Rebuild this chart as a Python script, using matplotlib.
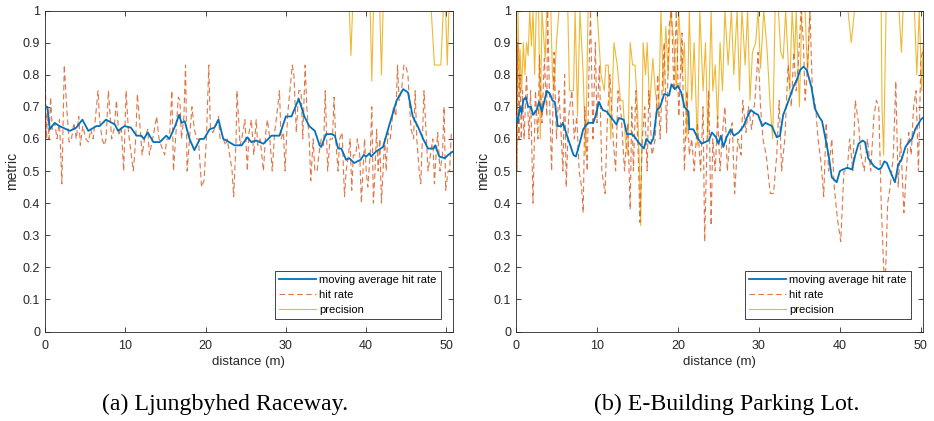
import matplotlib
matplotlib.use('Agg')
import matplotlib.pyplot as plt

# colours (MATLAB default line order)
c_ma = '#0072BD'
c_hit = '#D95319'
c_prec = '#EDB120'

# ---- (a) Ljungbyhed Raceway ----
a_ma_x = [0.0, 0.3, 0.6, 1.2, 1.8, 3.1, 3.9, 4.65, 5.4, 6.4, 6.8, 7.6, 8.7, 9.1, 9.9, 10.7,
          11.4, 12.0, 12.3, 12.8, 13.5, 14.3, 15.1, 15.5, 16.2, 16.7, 17.0, 17.4, 18.0, 18.6,
          19.3, 19.8, 20.5, 21.1, 21.6, 22.2, 22.6, 23.6, 24.5, 25.2, 25.7, 26.3, 27.2, 28.2,
          29.2, 30.0, 30.7, 31.6, 32.3, 32.9, 33.6, 34.2, 34.4, 35.0, 35.7, 36.1, 36.5, 36.9,
          37.5, 37.9, 38.5, 39.3, 39.7, 40.0, 40.4, 40.6, 41.2, 42.1, 42.9, 43.8, 44.6, 45.2,
          45.8, 46.5, 47.1, 47.7, 48.4, 48.6, 49.1, 49.8, 50.2, 50.75]
a_ma_y = [0.70, 0.70, 0.63, 0.65, 0.64, 0.625, 0.635, 0.66, 0.625, 0.64, 0.64, 0.66, 0.645,
          0.625, 0.64, 0.635, 0.61, 0.61, 0.60, 0.62, 0.59, 0.59, 0.61, 0.60, 0.64, 0.675,
          0.65, 0.655, 0.60, 0.565, 0.60, 0.60, 0.63, 0.635, 0.66, 0.60, 0.595, 0.58, 0.58,
          0.605, 0.59, 0.595, 0.585, 0.61, 0.61, 0.67, 0.67, 0.725, 0.67, 0.64, 0.625, 0.58,
          0.575, 0.615, 0.615, 0.61, 0.57, 0.57, 0.535, 0.54, 0.525, 0.535, 0.55, 0.545,
          0.555, 0.545, 0.56, 0.575, 0.645, 0.72, 0.755, 0.745, 0.67, 0.635, 0.60, 0.57,
          0.57, 0.58, 0.545, 0.54, 0.55, 0.56]

a_hit_x = [0.0, 0.2, 0.3, 0.5, 0.7, 0.9, 1.2, 1.5, 1.8, 2.1, 2.4, 2.7, 3.0, 3.3, 3.6, 3.9,
           4.2, 4.4, 4.7, 5.1, 5.4, 5.7, 6.0, 6.3, 6.6, 6.8, 7.1, 7.4, 7.6, 7.9, 8.3, 8.6,
           8.9, 9.2, 9.5, 9.8, 10.1, 10.4, 10.7, 11.0, 11.3, 11.5, 11.8, 12.1, 12.4, 12.8,
           13.0, 13.4, 13.7, 13.9, 14.2, 14.6, 14.9, 15.2, 15.5, 15.8, 16.0, 16.4, 16.6,
           16.8, 17.0, 17.3, 17.5, 17.7, 18.0, 18.3, 18.6, 18.9, 19.1, 19.5, 19.8, 20.1,
           20.4, 20.6, 20.9, 21.3, 21.6, 21.8, 22.2, 22.5, 22.7, 23.0, 23.3, 23.5, 23.8,
           23.9, 24.3, 24.5, 24.9, 25.2, 25.4, 25.7, 26.0, 26.3, 26.5, 26.8, 27.2, 27.5,
           27.7, 28.0, 28.3, 28.6, 28.8, 29.2, 29.4, 29.7, 29.9, 30.2, 30.5, 30.8, 31.0,
           31.3, 31.6, 31.9, 32.1, 32.4, 32.6, 32.9, 33.1, 33.4, 33.6, 33.9, 34.1, 34.4,
           34.7, 34.9, 35.2, 35.5, 35.8, 36.0, 36.2, 36.5, 36.7, 37.0, 37.3, 37.5, 37.8,
           38.0, 38.2, 38.4, 38.7, 38.9, 39.2, 39.4, 39.6, 39.8, 40.0, 40.2, 40.5, 40.7,
           40.9, 41.1, 41.3, 41.5, 41.7, 41.9, 42.1, 42.3, 42.5, 42.7, 43.0, 43.4, 43.7,
           43.9, 44.1, 44.4, 44.7, 44.9, 45.2, 45.4, 45.6, 45.9, 46.1, 46.3, 46.6, 46.8,
           47.0, 47.2, 47.5, 47.7, 48.0, 48.3, 48.5, 48.7, 48.9, 49.2, 49.5, 49.7, 49.9,
           50.2, 50.4, 50.6]
a_hit_y = [0.82, 0.60, 0.70, 0.60, 0.73, 0.63, 0.65, 0.60, 0.66, 0.46, 0.83, 0.70, 0.59,
           0.60, 0.65, 0.60, 0.67, 0.58, 0.64, 0.60, 0.59, 0.63, 0.60, 0.67, 0.75, 0.66,
           0.60, 0.58, 0.60, 0.75, 0.60, 0.63, 0.72, 0.61, 0.64, 0.50, 0.75, 0.62, 0.56,
           0.50, 0.60, 0.74, 0.65, 0.55, 0.60, 0.63, 0.55, 0.60, 0.64, 0.67, 0.60, 0.57,
           0.55, 0.60, 0.60, 0.75, 0.50, 0.65, 0.73, 0.72, 0.60, 0.67, 0.83, 0.50, 0.60,
           0.70, 0.63, 0.60, 0.60, 0.45, 0.47, 0.60, 0.83, 0.63, 0.62, 0.64, 0.67, 0.60,
           0.60, 0.58, 0.60, 0.55, 0.50, 0.42, 0.60, 0.75, 0.58, 0.60, 0.66, 0.50, 0.62,
           0.66, 0.55, 0.66, 0.58, 0.60, 0.50, 0.62, 0.66, 0.60, 0.50, 0.62, 0.66, 0.75,
           0.60, 0.62, 0.50, 0.67, 0.75, 0.83, 0.80, 0.62, 0.75, 0.75, 0.60, 0.83, 0.70,
           0.60, 0.47, 0.60, 0.50, 0.50, 0.55, 0.60, 0.58, 0.75, 0.50, 0.60, 0.60, 0.73,
           0.60, 0.50, 0.60, 0.62, 0.42, 0.50, 0.55, 0.60, 0.44, 0.55, 0.55, 0.60, 0.55,
           0.40, 0.50, 0.60, 0.50, 0.45, 0.55, 0.70, 0.40, 0.50, 0.63, 0.50, 0.60, 0.40,
           0.50, 0.60, 0.50, 0.62, 0.60, 0.70, 0.67, 0.83, 0.72, 0.75, 0.83, 0.83, 0.80,
           0.70, 0.63, 0.60, 0.75, 0.60, 0.50, 0.46, 0.60, 0.75, 0.60, 0.50, 0.55, 0.60,
           0.46, 0.55, 0.62, 0.50, 0.55, 0.70, 0.44, 0.50, 0.50, 0.62]

a_prec_x = [0.0, 37.9, 38.1, 38.3, 40.5, 40.7, 40.9, 41.7, 41.9, 42.1, 48.1, 48.5, 49.3,
            49.6, 49.9, 50.1, 50.3, 50.75]
a_prec_y = [1.0, 1.0, 0.86, 1.0, 1.0, 0.78, 1.0, 1.0, 0.80, 1.0, 1.0, 0.83, 0.83,
            1.0, 1.0, 0.83, 1.0, 1.0]

# ---- (b) E-Building Parking Lot ----
b_ma_x = [0.0, 0.2, 0.5, 0.7, 0.9, 1.2, 1.5, 1.85, 2.1, 2.55, 2.85, 3.2, 3.8, 4.2, 4.5,
          4.8, 5.15, 5.6, 5.8, 6.3, 6.7, 7.1, 7.4, 7.9, 8.3, 8.9, 9.55, 9.8, 10.25, 10.7,
          11.2, 11.8, 12.4, 12.7, 13.3, 13.7, 14.3, 14.7, 15.1, 15.45, 15.8, 16.1, 16.6,
          16.95, 17.4, 17.8, 18.3, 18.9, 19.2, 19.6, 20.0, 20.4, 20.8, 21.3, 21.4, 21.9,
          22.5, 22.9, 23.8, 24.2, 24.7, 25.0, 25.3, 25.6, 26.0, 26.5, 26.9, 27.5, 28.1,
          28.5, 29.0, 29.5, 29.9, 30.4, 30.8, 31.6, 32.2, 32.6, 33.0, 33.6, 34.3, 34.7,
          35.1, 35.5, 35.9, 36.5, 36.9, 37.4, 37.8, 38.3, 38.6, 39.0, 39.6, 40.0, 40.4,
          40.9, 41.5, 41.9, 42.3, 42.8, 43.1, 43.5, 44.2, 44.8, 45.1, 45.5, 45.8, 46.2,
          46.8, 47.2, 47.6, 48.1, 48.5, 48.9, 49.3, 50.0, 50.2]
b_ma_y = [0.67, 0.65, 0.70, 0.68, 0.72, 0.73, 0.70, 0.70, 0.675, 0.69, 0.715, 0.685, 0.75,
          0.74, 0.72, 0.715, 0.64, 0.64, 0.65, 0.61, 0.58, 0.55, 0.545, 0.59, 0.63, 0.65,
          0.65, 0.67, 0.715, 0.69, 0.685, 0.665, 0.645, 0.665, 0.66, 0.615, 0.615, 0.605,
          0.59, 0.58, 0.57, 0.60, 0.585, 0.60, 0.69, 0.70, 0.74, 0.735, 0.77, 0.755, 0.765,
          0.745, 0.70, 0.685, 0.63, 0.63, 0.60, 0.585, 0.595, 0.62, 0.605, 0.585, 0.61,
          0.575, 0.605, 0.63, 0.61, 0.62, 0.64, 0.665, 0.69, 0.68, 0.675, 0.64, 0.65, 0.64,
          0.605, 0.61, 0.675, 0.715, 0.765, 0.785, 0.815, 0.825, 0.815, 0.76, 0.695, 0.67,
          0.655, 0.59, 0.55, 0.48, 0.465, 0.50, 0.505, 0.51, 0.505, 0.55, 0.585, 0.595,
          0.59, 0.54, 0.515, 0.505, 0.51, 0.53, 0.525, 0.50, 0.465, 0.52, 0.535, 0.575,
          0.59, 0.60, 0.63, 0.66, 0.665]

b_hit_x = [0.0, 0.1, 0.2, 0.35, 0.5, 0.65, 0.8, 1.0, 1.3, 1.6, 1.8, 2.1, 2.4, 2.7, 2.9,
           3.2, 3.5, 3.8, 3.9, 4.2, 4.4, 4.7, 5.0, 5.3, 5.8, 6.0, 6.2, 6.5, 6.9, 7.2, 7.5,
           7.8, 8.1, 8.3, 8.5, 8.8, 9.0, 9.2, 9.5, 9.8, 10.0, 10.3, 10.6, 11.0, 11.3, 11.6,
           12.0, 12.3, 12.6, 13.0, 13.4, 13.8, 14.1, 14.3, 14.5, 14.8, 15.1, 15.3, 15.6,
           15.9, 16.2, 16.4, 16.8, 17.2, 17.5, 17.8, 18.0, 18.3, 18.6, 18.9, 19.2, 19.5,
           19.8, 20.1, 20.5, 20.8, 21.1, 21.4, 21.7, 22.0, 22.4, 22.8, 23.1, 23.3, 23.6,
           23.8, 24.1, 24.3, 24.6, 24.9, 25.2, 25.5, 25.8, 26.1, 26.4, 26.7, 27.0, 27.4,
           27.8, 28.0, 28.4, 28.7, 29.1, 29.5, 29.9, 30.2, 30.5, 30.9, 31.1, 31.4, 31.8,
           32.2, 32.5, 32.8, 33.2, 33.6, 34.0, 34.3, 34.6, 34.9, 35.2, 35.5, 35.7, 36.0,
           36.3, 36.6, 37.0, 37.3, 37.7, 38.0, 38.3, 38.6, 39.0, 39.3, 39.7, 40.1, 40.5,
           40.9, 41.2, 41.6, 41.9, 42.3, 42.6, 43.0, 43.4, 43.8, 44.2, 44.5, 44.8, 45.1,
           45.4, 45.6, 45.9, 46.2, 46.6, 46.9, 47.2, 47.5, 47.9, 48.2, 48.5, 48.8, 49.1,
           49.4, 49.7, 50.0, 50.3]
b_hit_y = [1.0, 0.5, 0.9, 0.6, 0.8, 0.6, 0.75, 0.6, 0.8, 0.6, 0.75, 0.4, 0.75, 0.6, 0.86,
           0.65, 0.85, 0.67, 1.0, 0.67, 0.5, 0.87, 0.6, 0.75, 0.5, 0.8, 0.45, 0.67, 0.75,
           0.6, 0.67, 0.5, 0.45, 0.37, 0.7, 0.5, 0.8, 1.0, 0.6, 0.9, 0.65, 0.83, 0.5, 0.43,
           0.67, 0.8, 0.6, 0.5, 0.75, 0.67, 0.5, 0.65, 0.38, 0.7, 0.5, 0.75, 0.55, 0.34,
           0.6, 0.7, 0.5, 0.75, 0.55, 0.6, 0.8, 0.6, 0.73, 0.9, 0.62, 0.95, 1.0, 0.75, 1.0,
           0.67, 0.93, 0.5, 0.75, 0.55, 0.6, 0.5, 0.65, 0.5, 0.7, 0.28, 0.6, 0.75, 0.33,
           0.6, 0.5, 0.67, 0.5, 0.62, 0.7, 0.5, 0.6, 0.65, 0.43, 0.6, 0.55, 0.72, 0.62,
           0.7, 0.63, 0.72, 0.87, 0.7, 0.6, 0.55, 0.5, 0.43, 0.43, 0.55, 0.72, 0.5, 0.6,
           0.83, 0.7, 0.87, 0.75, 0.85, 1.0, 0.9, 0.72, 0.82, 1.0, 0.75, 0.7, 0.6, 0.52,
           0.42, 0.65, 0.5, 0.6, 0.45, 0.35, 0.28, 0.5, 0.5, 0.6, 0.5, 0.72, 0.65, 0.55,
           0.5, 0.6, 0.5, 0.67, 0.72, 0.7, 0.4, 0.2, 0.15, 0.4, 0.45, 0.55, 0.78, 0.45,
           0.6, 0.37, 0.5, 0.62, 0.55, 0.7, 0.75, 0.5, 0.85, 0.88]

b_prec_x = [0.0, 0.1, 0.25, 0.4, 0.5, 0.7, 0.9, 1.1, 1.3, 1.5, 1.7, 1.9, 2.1, 2.3, 2.5,
            2.8, 3.0, 3.2, 3.6, 3.8, 4.3, 4.5, 4.7, 5.0, 5.3, 6.4, 6.6, 7.1, 7.3, 7.6, 7.9,
            8.3, 8.6, 8.9, 10.0, 10.5, 10.9, 11.1, 11.4, 11.7, 11.9, 12.1, 12.5, 12.9,
            13.2, 13.5, 13.8, 14.1, 14.4, 14.7, 15.0, 15.2, 15.4, 15.7, 16.0, 16.2, 16.5,
            16.9, 17.2, 17.6, 17.9, 18.2, 18.5, 18.8, 19.1, 19.5, 19.8, 20.1, 20.5, 20.8,
            21.1, 21.4, 21.7, 22.0, 22.4, 22.7, 23.1, 23.4, 23.7, 24.1, 24.3, 24.6, 24.9,
            25.2, 25.5, 25.8, 26.2, 26.6, 26.9, 27.3, 27.6, 27.9, 28.3, 28.6, 28.9, 29.2,
            29.6, 29.9, 30.2, 30.6, 31.0, 31.4, 31.7, 32.0, 32.4, 32.7, 33.0, 33.3, 33.8,
            34.1, 34.4, 34.6, 35.0, 35.3, 35.7, 36.0, 36.3, 41.0, 41.4, 41.8, 45.1, 45.2,
            45.4, 45.5, 45.7, 47.3, 47.6, 47.8, 49.2, 49.5, 49.8, 50.1, 50.3]
b_prec_y = [1.0, 0.5, 1.0, 0.75, 0.88, 0.75, 0.9, 0.8, 0.9, 0.86, 1.0, 0.89, 1.0, 0.8,
            1.0, 1.0, 0.6, 1.0, 0.85, 1.0, 1.0, 0.8, 0.75, 0.9, 1.0, 1.0, 0.75, 0.75, 1.0,
            0.67, 1.0, 0.8, 0.55, 1.0, 1.0, 0.8, 0.75, 0.83, 0.83, 0.6, 0.75, 0.9, 0.83,
            0.72, 0.72, 0.6, 0.55, 0.9, 0.83, 0.83, 0.7, 0.55, 0.33, 0.9, 0.8, 0.9, 0.7,
            0.85, 0.75, 0.67, 1.0, 0.75, 0.95, 0.8, 1.0, 0.9, 0.75, 1.0, 0.8, 0.9, 0.6, 1.0,
            0.72, 0.9, 0.58, 1.0, 0.75, 0.9, 0.6, 1.0, 0.75, 0.83, 0.65, 0.9, 0.75, 1.0,
            0.83, 1.0, 0.8, 1.0, 0.75, 1.0, 0.83, 1.0, 0.72, 0.87, 0.9, 1.0, 0.82, 1.0,
            0.88, 0.7, 0.6, 1.0, 1.0, 0.87, 0.85, 1.0, 0.75, 1.0, 0.85, 1.0, 0.7, 1.0, 1.0,
            0.8, 1.0, 1.0, 0.9, 1.0, 1.0, 0.7, 0.55, 0.7, 1.0, 1.0, 0.87, 1.0, 1.0, 0.8,
            1.0, 0.75, 0.9]

captions = ['(a) Ljungbyhed Raceway.', '(b) E-Building Parking Lot.']
labels = ['moving average hit rate', 'hit rate', 'precision']

plt.rcParams['font.family'] = ['Liberation Sans', 'DejaVu Sans']


def draw_panel(ax, ma_x, ma_y, hit_x, hit_y, prec_x, prec_y, xmax):
    ax.plot(ma_x, ma_y, color=c_ma, lw=1.3, label=labels[0], zorder=3)
    ax.plot(hit_x, hit_y, color=c_hit, lw=0.8, ls=(0, (5, 3)), alpha=0.8,
            label=labels[1], zorder=2)
    ax.plot(prec_x, prec_y, color=c_prec, lw=0.8, alpha=0.9, label=labels[2], zorder=1)
    ax.set_xlim(0, xmax)
    ax.set_ylim(0, 1)
    ax.set_xticks([0, 10, 20, 30, 40, 50])
    ax.set_yticks([i / 10 for i in range(11)])
    ax.set_yticklabels(['0', '0.1', '0.2', '0.3', '0.4', '0.5', '0.6', '0.7', '0.8', '0.9', '1'])
    ax.tick_params(direction='in', top=True, right=True, labelsize=9,
                   colors='#262626', length=3.5, width=0.6)
    ax.tick_params(axis='x', pad=6)
    for s in ax.spines.values():
        s.set_color('#262626')
        s.set_linewidth(0.6)
    ax.set_xlabel('distance (m)', fontsize=9.5, color='#262626', labelpad=3)
    ax.set_ylabel('metric', fontsize=10, color='#262626', labelpad=3)
    w = ax.get_position().width * 934
    h = ax.get_position().height * 421
    leg = ax.legend(loc='lower right', bbox_to_anchor=(1 - 12 / w, 12.5 / h),
                    borderaxespad=0, fontsize=8, handlelength=3.3, handletextpad=0.3,
                    labelspacing=0.45, borderpad=0.35, fancybox=False, framealpha=1)
    leg.get_frame().set_edgecolor('#262626')
    leg.get_frame().set_linewidth(0.6)


fig = plt.figure(figsize=(9.34, 4.21), dpi=100)
ax1 = fig.add_axes([45 / 934, 89.5 / 421, 407.5 / 934, 321 / 421])
ax2 = fig.add_axes([516 / 934, 89.5 / 421, 406.5 / 934, 321 / 421])

draw_panel(ax1, a_ma_x, a_ma_y, a_hit_x, a_hit_y, a_prec_x, a_prec_y, 50.75)
draw_panel(ax2, b_ma_x, b_ma_y, b_hit_x, b_hit_y, b_prec_x, b_prec_y, 50.2)

fig.text(225 / 934, 1 - 404 / 421, captions[0], ha='center', va='center',
         fontsize=17.2, family='Liberation Serif')
fig.text(727 / 934, 1 - 404 / 421, captions[1], ha='center', va='center',
         fontsize=17.2, family='Liberation Serif')

plt.savefig('out.png', dpi=100)
plt.close()
